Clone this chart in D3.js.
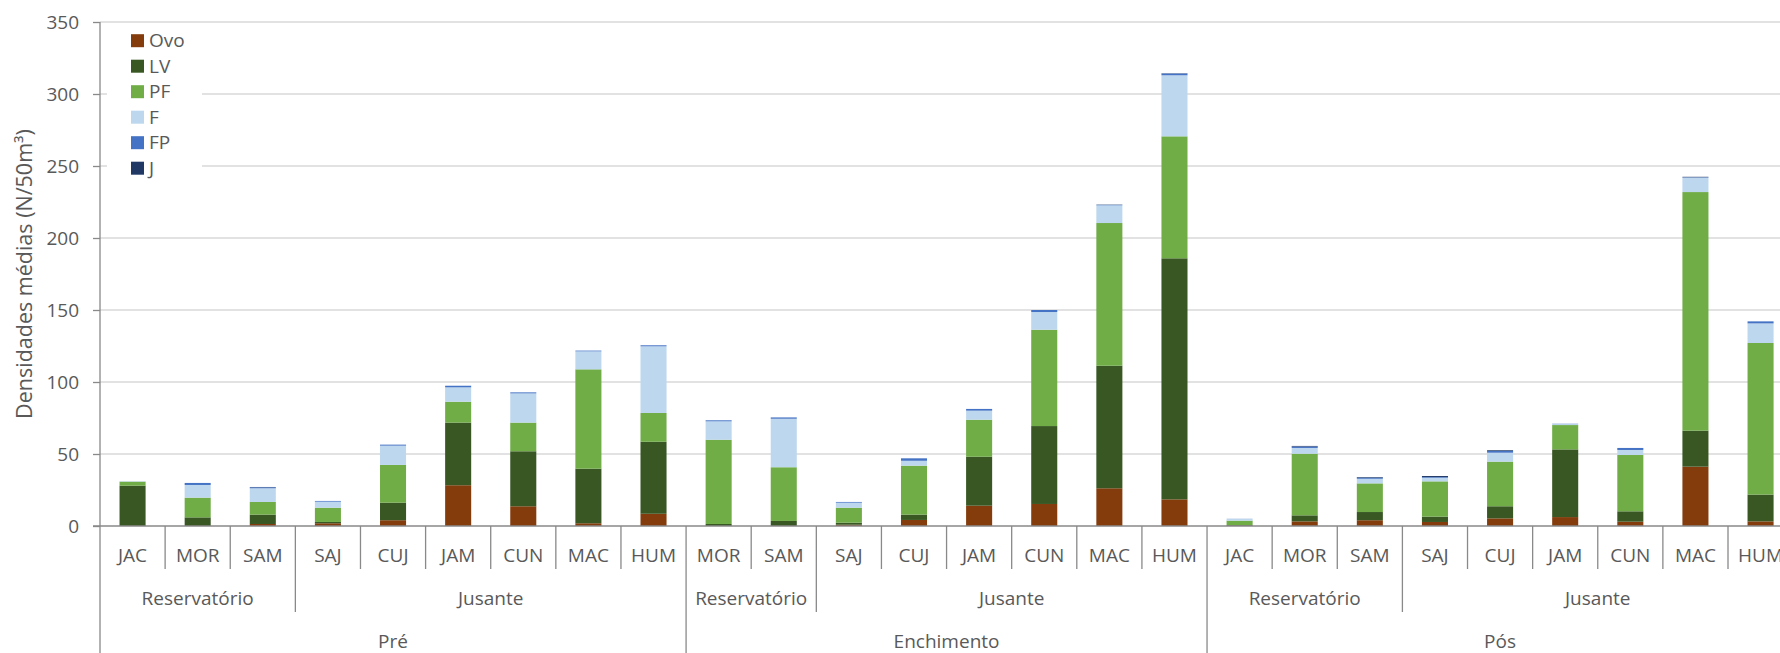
<!DOCTYPE html>
<html>
<head>
<meta charset="utf-8">
<script src="https://cdn.jsdelivr.net/npm/d3@7"></script>
<style>
  html, body { margin: 0; padding: 0; background: #fff; }
  svg { display: block; }
  text { font-family: "Open Sans", "Noto Sans", sans-serif; fill: #595959; }
</style>
</head>
<body>
<svg id="chart" width="1780" height="653"></svg>
<script>
// ---------------- data ----------------
const sites  = ["JAC","MOR","SAM","SAJ","CUJ","JAM","CUN","MAC","HUM",
                "MOR","SAM","SAJ","CUJ","JAM","CUN","MAC","HUM",
                "JAC","MOR","SAM","SAJ","CUJ","JAM","CUN","MAC","HUM"];
const zones  = ["Reservatório","Reservatório","Reservatório","Jusante","Jusante","Jusante","Jusante","Jusante","Jusante",
                "Reservatório","Reservatório","Jusante","Jusante","Jusante","Jusante","Jusante","Jusante",
                "Reservatório","Reservatório","Reservatório","Jusante","Jusante","Jusante","Jusante","Jusante","Jusante"];
const phases = ["Pré","Pré","Pré","Pré","Pré","Pré","Pré","Pré","Pré",
                "Enchimento","Enchimento","Enchimento","Enchimento","Enchimento","Enchimento","Enchimento","Enchimento",
                "Pós","Pós","Pós","Pós","Pós","Pós","Pós","Pós","Pós"];

const seriesNames = ["Ovo","LV","PF","F","FP","J"];
const ovo = [0, 0, 1.4, 1.9, 4.0, 28.3, 13.7, 1.9, 8.5,
             0, 0, 0.9, 4.2, 14.1, 15.3, 26.2, 18.5,
             0.2, 3.2, 4.0, 2.8, 5.3, 6.2, 3.0, 41.2, 3.2];
const lv  = [28.0, 6.0, 6.5, 0.9, 12.2, 43.5, 38.2, 37.9, 50.0,
             1.4, 3.5, 1.4, 3.7, 34.0, 54.1, 85.1, 167.4,
             0.5, 4.2, 5.7, 3.7, 8.4, 47.0, 7.2, 25.0, 18.6];
const pf  = [2.8, 13.7, 8.8, 9.9, 26.2, 14.5, 19.9, 69.0, 20.0,
             58.5, 37.3, 10.4, 34.0, 25.7, 66.9, 99.1, 84.7,
             3.0, 42.8, 19.9, 24.5, 31.0, 16.9, 39.1, 165.7, 105.3];
const f   = [0.3, 8.8, 9.5, 4.2, 13.4, 10.0, 20.3, 12.5, 46.3,
             12.8, 33.7, 3.5, 3.4, 6.3, 12.3, 12.3, 42.4,
             1.2, 4.0, 3.2, 2.5, 6.2, 0.7, 3.5, 10.0, 13.6];
const fp  = [0, 1.4, 0.7, 0.5, 0.7, 1.1, 0.7, 0.5, 0.7,
             0.7, 0.9, 0.5, 1.7, 1.2, 1.4, 0.3, 1.2,
             0.1, 1.0, 0.8, 0.5, 1.2, 0.2, 1.4, 0.3, 1.4];
const juv = [0, 0, 0.2, 0, 0, 0, 0, 0, 0,
             0, 0, 0, 0, 0, 0, 0.2, 0.2,
             0, 0.4, 0.4, 0.7, 0.5, 0, 0, 0.3, 0];
const yTicks = [0, 50, 100, 150, 200, 250, 300, 350];
const colors = ["#843C0C", "#385723", "#70AD47", "#BDD7EE", "#4472C4", "#1F3864"];
const yTitle = "Densidades médias (N/50m³)";

// ---------------- build ----------------
const svg = d3.select("#chart");
const leftX = 100, step = 65.12, topY = 22, bottomY = 526;
const n = sites.length;

const x = d3.scaleBand().domain(d3.range(n))
  .range([leftX, leftX + n * step]).paddingInner(0.6).paddingOuter(0.3);
const y = d3.scaleLinear().domain([0, 350]).range([bottomY, topY]);
const bnd = i => x.range()[0] + i * x.step();   // left boundary of slot i

const table = d3.range(n).map(i => ({
  i, Ovo: ovo[i], LV: lv[i], PF: pf[i], F: f[i], FP: fp[i], J: juv[i]
}));
const stack = d3.stack().keys(seriesNames)(table);

// gridlines
svg.append("g").selectAll("line").data(yTicks.filter(d => d > 0)).join("line")
  .attr("x1", leftX).attr("x2", 1780)
  .attr("y1", d => y(d)).attr("y2", d => y(d))
  .attr("stroke", "#d9d9d9").attr("stroke-width", 1.5);

// y axis
const yAxis = svg.append("g").attr("transform", `translate(${leftX},0)`)
  .call(d3.axisLeft(y).tickValues(yTicks).tickSize(7).tickPadding(14));
yAxis.select(".domain").remove();
yAxis.selectAll(".tick line").attr("stroke", "#898989").attr("stroke-width", 1.3);
yAxis.selectAll(".tick text").attr("font-size", 19).attr("fill", "#595959")
  .attr("font-family", "'Open Sans', sans-serif");

// bars
svg.append("g").selectAll("g").data(stack).join("g")
  .attr("fill", (d, k) => colors[k])
  .selectAll("rect").data(d => d).join("rect")
  .attr("x", d => x(d.data.i))
  .attr("width", x.bandwidth())
  .attr("y", d => y(d[1]))
  .attr("height", d => Math.max(0, y(d[0]) - y(d[1])));

// legend (white box covering gridlines)
const lg = svg.append("g");
lg.append("rect").attr("x", 107).attr("y", 28).attr("width", 95).attr("height", 152).attr("fill", "#fff");
seriesNames.forEach((s, k) => {
  const cy = 40.7 + k * 25.5;
  lg.append("rect").attr("x", 131).attr("y", cy - 6.5).attr("width", 13).attr("height", 13).attr("fill", colors[k]);
  lg.append("text").attr("x", 149).attr("y", cy).attr("dy", "0.35em").attr("font-size", 19).text(s);
});

// axes lines
const axis = svg.append("g").attr("stroke", "#898989").attr("stroke-width", 1.3);
axis.append("line").attr("x1", leftX).attr("x2", leftX).attr("y1", topY).attr("y2", 653);
axis.append("line").attr("x1", leftX - 7).attr("x2", 1780).attr("y1", bottomY).attr("y2", bottomY);

// category separators
for (let i = 1; i <= n; i++) {
  let yEnd = 569;
  if (i === n || zones[i] !== zones[i - 1] || phases[i] !== phases[i - 1]) yEnd = 612;
  if (i === n || phases[i] !== phases[i - 1]) yEnd = 653;
  axis.append("line").attr("x1", bnd(i)).attr("x2", bnd(i)).attr("y1", bottomY).attr("y2", yEnd);
}

// level-1 labels
svg.append("g").selectAll("text").data(sites).join("text")
  .attr("x", (d, i) => x(i) + x.bandwidth() / 2).attr("y", 562)
  .attr("text-anchor", "middle").attr("font-size", 19).text(d => d);

// level-2 and level-3 group labels
function groups(arr, keyFn) {
  const out = [];
  let start = 0;
  for (let i = 1; i <= n; i++) {
    if (i === n || keyFn(i) !== keyFn(i - 1)) { out.push({ label: arr[start], s: start, e: i }); start = i; }
  }
  return out;
}
const zoneGroups = groups(zones, i => phases[i] + "|" + zones[i]);
const phaseGroups = groups(phases, i => phases[i]);
svg.append("g").selectAll("text").data(zoneGroups).join("text")
  .attr("x", d => (bnd(d.s) + bnd(d.e)) / 2).attr("y", 605)
  .attr("text-anchor", "middle").attr("font-size", 19).text(d => d.label);
svg.append("g").selectAll("text").data(phaseGroups).join("text")
  .attr("x", d => (bnd(d.s) + bnd(d.e)) / 2).attr("y", 647.5)
  .attr("text-anchor", "middle").attr("font-size", 19).text(d => d.label);

// y title
svg.append("text").attr("transform", `translate(32,${(topY + bottomY) / 2}) rotate(-90)`)
  .attr("text-anchor", "middle").attr("font-size", 21.5).text(yTitle);
</script>
</body>
</html>
